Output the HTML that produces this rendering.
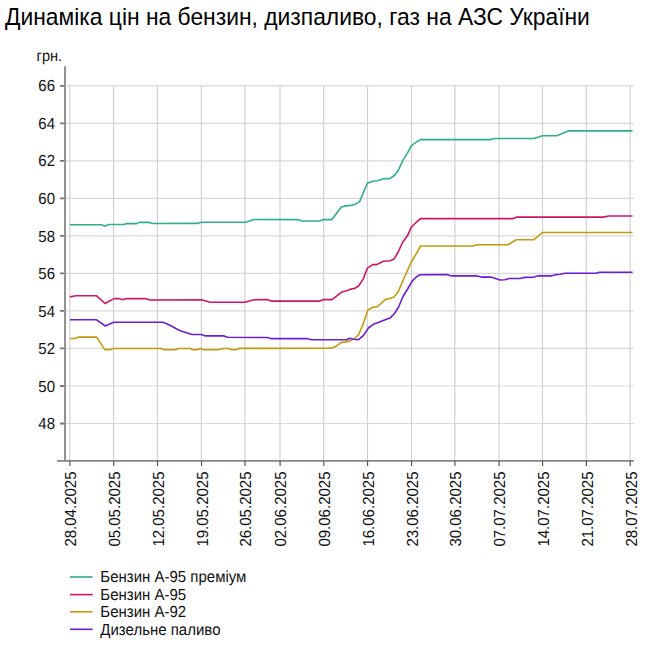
<!DOCTYPE html><html><head><meta charset="utf-8"><style>html,body{margin:0;padding:0;background:#fff;width:649px;height:649px;overflow:hidden}svg{display:block}text{font-family:"Liberation Sans",sans-serif;fill:#000}.g{text-rendering:geometricPrecision;fill:#111}</style></head><body>
<svg width="649" height="649" viewBox="0 0 649 649">
<rect width="649" height="649" fill="#fff"/>
<text transform="translate(5,25) scale(1,1.08)" font-size="22.85">Динаміка цін на бензин, дизпаливо, газ на АЗС України</text>
<text class="g" transform="translate(36.6,61) scale(1,1.07)" font-size="14.6">грн.</text>
<path d="M65,423.5H633.8 M65,386.0H633.8 M65,348.4H633.8 M65,310.9H633.8 M65,273.4H633.8 M65,235.9H633.8 M65,198.4H633.8 M65,160.8H633.8 M65,123.3H633.8 M65,85.8H633.8" stroke="#d9d9d9" stroke-width="1.2" fill="none"/>
<path d="M69.8,85.8V460 M113.6,85.8V460 M157.4,85.8V460 M201.4,85.8V460 M244.9,85.8V460 M280.0,85.8V460 M323.7,85.8V460 M367.5,85.8V460 M411.5,85.8V460 M454.8,85.8V460 M499.0,85.8V460 M542.5,85.8V460 M586.3,85.8V460 M630.1,85.8V460" stroke="#d0d0d0" stroke-width="1.15" fill="none"/>
<path d="M65,66.3V460.6 M57,460.9H633.8" stroke="#878787" stroke-width="1.8" fill="none"/>
<path d="M60,423.5H64 M60,386.0H64 M60,348.4H64 M60,310.9H64 M60,273.4H64 M60,235.9H64 M60,198.4H64 M60,160.8H64 M60,123.3H64 M60,85.8H64" stroke="#7a7a7a" stroke-width="1.8" fill="none"/>
<path d="M69.9,461V466 M113.7,461V466 M157.5,461V466 M201.5,461V466 M245.0,461V466 M280.1,461V466 M323.8,461V466 M367.6,461V466 M411.6,461V466 M454.9,461V466 M499.1,461V466 M542.6,461V466 M586.4,461V466 M630.2,461V466" stroke="#4a4a4a" stroke-width="1.1" fill="none"/>
<text class="g" transform="translate(55,429.1) scale(1,1.07)" font-size="15" text-anchor="end">48</text>
<text class="g" transform="translate(55,391.6) scale(1,1.07)" font-size="15" text-anchor="end">50</text>
<text class="g" transform="translate(55,354.0) scale(1,1.07)" font-size="15" text-anchor="end">52</text>
<text class="g" transform="translate(55,316.5) scale(1,1.07)" font-size="15" text-anchor="end">54</text>
<text class="g" transform="translate(55,279.0) scale(1,1.07)" font-size="15" text-anchor="end">56</text>
<text class="g" transform="translate(55,241.5) scale(1,1.07)" font-size="15" text-anchor="end">58</text>
<text class="g" transform="translate(55,204.0) scale(1,1.07)" font-size="15" text-anchor="end">60</text>
<text class="g" transform="translate(55,166.4) scale(1,1.07)" font-size="15" text-anchor="end">62</text>
<text class="g" transform="translate(55,128.9) scale(1,1.07)" font-size="15" text-anchor="end">64</text>
<text class="g" transform="translate(55,91.4) scale(1,1.07)" font-size="15" text-anchor="end">66</text>
<text class="g" transform="translate(76.2,471.5) rotate(-90) scale(1,1.07)" font-size="15" text-anchor="end">28.04.2025</text>
<text class="g" transform="translate(120.0,471.5) rotate(-90) scale(1,1.07)" font-size="15" text-anchor="end">05.05.2025</text>
<text class="g" transform="translate(163.8,471.5) rotate(-90) scale(1,1.07)" font-size="15" text-anchor="end">12.05.2025</text>
<text class="g" transform="translate(207.8,471.5) rotate(-90) scale(1,1.07)" font-size="15" text-anchor="end">19.05.2025</text>
<text class="g" transform="translate(251.3,471.5) rotate(-90) scale(1,1.07)" font-size="15" text-anchor="end">26.05.2025</text>
<text class="g" transform="translate(286.4,471.5) rotate(-90) scale(1,1.07)" font-size="15" text-anchor="end">02.06.2025</text>
<text class="g" transform="translate(330.1,471.5) rotate(-90) scale(1,1.07)" font-size="15" text-anchor="end">09.06.2025</text>
<text class="g" transform="translate(373.9,471.5) rotate(-90) scale(1,1.07)" font-size="15" text-anchor="end">16.06.2025</text>
<text class="g" transform="translate(417.9,471.5) rotate(-90) scale(1,1.07)" font-size="15" text-anchor="end">23.06.2025</text>
<text class="g" transform="translate(461.2,471.5) rotate(-90) scale(1,1.07)" font-size="15" text-anchor="end">30.06.2025</text>
<text class="g" transform="translate(505.4,471.5) rotate(-90) scale(1,1.07)" font-size="15" text-anchor="end">07.07.2025</text>
<text class="g" transform="translate(548.9,471.5) rotate(-90) scale(1,1.07)" font-size="15" text-anchor="end">14.07.2025</text>
<text class="g" transform="translate(592.7,471.5) rotate(-90) scale(1,1.07)" font-size="15" text-anchor="end">21.07.2025</text>
<text class="g" transform="translate(636.5,471.5) rotate(-90) scale(1,1.07)" font-size="15" text-anchor="end">28.07.2025</text>
<polyline points="70.0,338.5 75.0,338.5 78.9,337.1 96.6,337.1 104.8,349.6 110.5,349.6 113.5,348.5 160.5,348.5 164.4,349.6 174.6,349.8 179.3,348.5 190.0,348.5 192.8,349.8 196.8,349.8 200.6,348.4 203.9,349.8 217.8,349.8 224.0,348.5 228.6,348.5 231.7,349.8 235.5,349.8 239.4,348.4 331.0,348.3 335.9,346.3 341.3,342.4 345.0,342.1 349.9,340.9 354.9,338.4 358.6,334.7 363.5,323.0 367.8,310.1 373.4,307.0 377.1,307.0 385.1,299.6 389.4,298.4 394.3,296.9 398.6,291.0 403.0,280.5 407.4,270.5 411.3,262.0 415.9,254.3 420.5,246.0 472.4,246.0 477.0,244.8 507.8,244.8 516.3,239.7 534.0,239.7 542.3,232.5 632.5,232.5" stroke="#c49a0c" stroke-width="1.6" fill="none" stroke-linejoin="round"/>
<polyline points="70.0,319.8 96.6,319.8 105.4,326.0 113.5,322.3 163.0,322.3 167.3,324.0 172.3,326.5 177.2,329.3 180.9,331.0 185.8,332.6 192.0,334.5 201.2,334.5 205.6,335.9 224.0,335.9 227.7,337.3 267.3,337.5 271.2,338.6 306.6,338.6 311.2,339.8 346.7,339.8 349.8,338.3 353.6,339.3 358.6,339.7 363.5,335.4 368.4,328.0 373.4,324.3 378.3,322.4 384.5,319.9 390.0,318.1 394.3,313.8 398.6,307.0 403.0,296.5 407.9,288.5 412.2,281.1 416.5,276.8 420.2,274.7 446.9,274.6 451.6,275.9 477.0,275.9 481.6,277.1 490.8,277.1 500.1,280.0 504.7,279.7 509.3,278.5 520.1,278.5 524.7,277.4 534.0,277.1 538.4,275.8 551.2,275.9 556.0,274.6 560.1,274.3 564.9,273.3 595.7,273.3 599.7,272.2 632.5,272.2" stroke="#6c1ed6" stroke-width="1.6" fill="none" stroke-linejoin="round"/>
<polyline points="70.0,296.9 75.8,295.8 96.6,295.8 105.1,303.5 114.0,298.6 118.9,298.6 122.8,299.8 126.6,298.6 145.1,298.6 149.7,300.0 201.6,299.8 210.1,302.3 244.7,302.3 254.0,299.8 267.3,299.6 271.2,301.1 319.7,301.1 323.6,299.6 332.0,299.6 342.0,291.9 347.4,290.5 351.2,289.1 354.9,288.2 358.6,286.0 363.5,278.6 367.3,268.2 372.7,264.6 376.6,264.6 383.5,261.2 389.7,260.8 394.0,259.2 398.2,252.0 402.8,242.0 407.4,235.8 411.3,227.3 415.9,222.7 420.5,218.6 513.2,218.6 517.0,217.0 603.8,217.1 608.6,216.0 632.5,216.0" stroke="#cf1468" stroke-width="1.6" fill="none" stroke-linejoin="round"/>
<polyline points="70.0,224.8 101.2,224.8 104.8,226.1 109.4,224.5 123.7,224.5 126.5,223.6 136.6,223.6 138.9,222.4 149.6,222.4 152.3,223.5 197.7,223.4 200.8,222.2 245.5,222.2 254.0,219.5 297.4,219.6 302.0,221.0 319.7,221.0 323.6,219.6 332.0,219.6 341.3,207.0 345.9,205.9 351.2,205.4 355.8,203.9 359.6,201.6 367.3,183.2 372.7,181.2 377.4,180.8 384.3,178.6 389.7,178.6 394.3,175.5 398.2,170.5 402.8,160.7 407.4,153.2 411.3,145.8 415.9,142.4 420.5,139.6 490.1,139.6 494.7,138.5 534.0,138.5 542.3,135.7 556.8,135.7 568.2,130.9 632.5,130.9" stroke="#2eae8c" stroke-width="1.6" fill="none" stroke-linejoin="round"/>
<path d="M70,577.0H92.7" stroke="#2eae8c" stroke-width="1.6"/>
<text class="g" transform="translate(100.3,581.9) scale(1,1.07)" font-size="15">Бензин А-95 преміум</text>
<path d="M70,594.6H92.7" stroke="#cf1468" stroke-width="1.6"/>
<text class="g" transform="translate(100.3,599.9) scale(1,1.07)" font-size="15">Бензин А-95</text>
<path d="M70,611.8H92.7" stroke="#c49a0c" stroke-width="1.6"/>
<text class="g" transform="translate(100.3,616.9) scale(1,1.07)" font-size="15">Бензин А-92</text>
<path d="M70,629.3H92.7" stroke="#6c1ed6" stroke-width="1.6"/>
<text class="g" transform="translate(100.3,634.9) scale(1,1.07)" font-size="15">Дизельне паливо</text>
</svg></body></html>
